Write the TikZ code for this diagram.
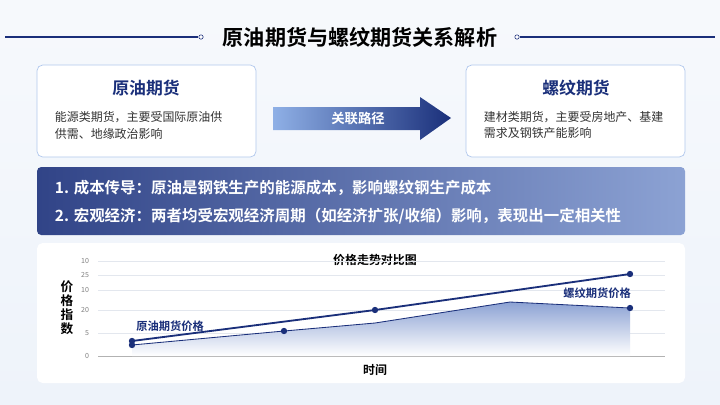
\documentclass[tikz,border=0pt]{standalone}
\usepackage{fontspec}
\setmainfont{Noto Sans CJK SC}
\newfontfamily\cjkbold{Noto Sans CJK SC Bold}
\usetikzlibrary{arrows.meta, positioning, shapes.arrows}
\definecolor{navy}{HTML}{1A2F7A}
\definecolor{midblue}{HTML}{2E56B0}
\definecolor{paleblue}{HTML}{8FB0E6}
\definecolor{panelbg}{HTML}{EEF3FA}
\definecolor{gridgray}{HTML}{E3E7EE}

\begin{document}
\begin{tikzpicture}[
      x=0.025cm, y=-0.025cm,
      every node/.style={font=\fontsize{8.5}{12}\selectfont},
      card/.style={draw=paleblue!70, fill=white, rounded corners=4pt, line width=0.5pt},
      cardtitle/.style={font=\cjkbold\fontsize{12}{14}\selectfont, text=navy},
      cardtext/.style={anchor=west, align=left, text=black!80},
      banner/.style={font=\cjkbold\fontsize{11}{13}\selectfont, text=white, anchor=west},
      ticklabel/.style={font=\fontsize{5}{6}\selectfont, text=black!50, anchor=east},
      dot/.style={circle, fill=navy, inner sep=1.6pt}
    ]
    % Background
    \fill[top color=panelbg!50, bottom color=panelbg] (0,0) rectangle (720,404);
    \useasboundingbox (0,0) rectangle (720,404);

    % Title
    \node[font=\cjkbold\fontsize{15}{17}\selectfont] (title) at (360,37) {原油期货与螺纹期货关系解析};
    \draw[navy, line width=0.8pt] (5,37) -- (198,37);
    \draw[navy, line width=0.8pt] (520,37) -- (715,37);
    \draw[navy, fill=white] (201,37) circle (2.2);
    \draw[navy, fill=white] (517,37) circle (2.2);

    % Cards
    \draw[card] (37,65) rectangle (256,157);
    \draw[card] (466,65) rectangle (685,157);
    \node[cardtitle] (oil) at (146,88) {原油期货};
    \node[cardtext] (oiltext) at (50,125) {能源类期货，主要受国际原油供\\供需、地缘政治影响};
    \node[cardtitle] (rebar) at (576,88) {螺纹期货};
    \node[cardtext] (rebartext) at (479,125) {建材类期货，主要受房地产、基建\\需求及钢铁产能影响};

    % Arrow
    \shade[left color=paleblue, right color=navy]
      (273,107) -- (420,107) -- (420,97) -- (451,118) -- (420,140) -- (420,130) -- (273,130) -- cycle;
    \node[font=\cjkbold\fontsize{9.5}{11}\selectfont, text=white] (link) at (358,118) {关联路径};

    % Banner
    \shade[left color=navy!90, right color=midblue!55, rounded corners=3pt] (37,167) rectangle (685,235);
    \node[banner] (cost) at (50,188) {1. 成本传导：原油是钢铁生产的能源成本，影响螺纹钢生产成本};
    \node[banner] (macro) at (50,216) {2. 宏观经济：两者均受宏观经济周期（如经济扩张/收缩）影响，表现出一定相关性};

    % Chart panel
    \fill[white, rounded corners=4pt] (37,243) rectangle (685,383);
    \node[font=\cjkbold\fontsize{8.5}{10}\selectfont] (charttitle) at (375,260) {价格走势对比图};
    \foreach \yy/\lab in {261/10, 275/25, 290/10, 310/20, 333/5, 356/0} {
      \draw[gridgray, line width=0.4pt] (98,\yy) -- (665,\yy);
      \node[ticklabel] at (94,\yy) {\lab};
    }
    \draw[black!30, line width=0.5pt] (98,356) -- (665,356);
    \node[font=\cjkbold\fontsize{9}{10}\selectfont, align=center] (ylabel) at (67,308) {价\\格\\指\\数};
    \node[font=\cjkbold\fontsize{8.5}{10}\selectfont] (xlabel) at (375,370) {时间};

    % Area and lines
    \shade[top color=midblue!55, bottom color=white]
      (132,345) -- (284,331) -- (375,323) -- (510,302) -- (630,308) -- (630,356) -- (132,356) -- cycle;
    \draw[navy, line width=0.6pt] (132,345) -- (284,331) -- (375,323) -- (510,302) -- (630,308);
    \draw[navy, line width=1.3pt] (132,341) -- (375,310) -- (630,274);
    \foreach \px/\py in {132/345, 284/331, 630/308, 132/341, 375/310, 630/274}
      \node[dot] at (\px,\py) {};
    \node[font=\cjkbold\fontsize{8}{9}\selectfont, text=navy] (oillab) at (170,326) {原油期货价格};
    \node[font=\cjkbold\fontsize{8}{9}\selectfont, text=navy] (rebarlab) at (597,293) {螺纹期货价格};
    \end{tikzpicture}
\end{document}
